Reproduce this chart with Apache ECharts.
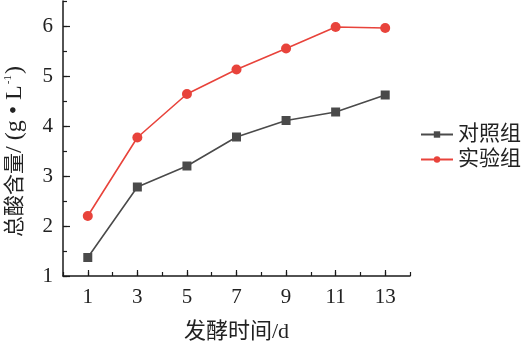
<!DOCTYPE html>
<html><head><meta charset="utf-8">
<script src="https://cdn.jsdelivr.net/npm/echarts@6/dist/echarts.min.js"></script>
<style>html,body{margin:0;padding:0;background:#fff}#c{width:522px;height:344px}</style>
</head><body><div id="c"></div>
<script>
const days = [1, 3, 5, 7, 9, 11, 13];
const controlValues = [1.37, 2.78, 3.20, 3.78, 4.11, 4.28, 4.62];
const testValues = [2.20, 3.77, 4.64, 5.13, 5.55, 5.98, 5.96];
const xTickLabels = [1, 3, 5, 7, 9, 11, 13];
const yTickLabels = [1, 2, 3, 4, 5, 6];
const seriesNames = ['对照组', '实验组'];

const serif = '"Liberation Serif", "Noto Sans CJK SC", serif';
const axisColor = '#1a1a1a';
const chart = echarts.init(document.getElementById('c'));
const pair = (vals) => days.map((d, i) => [d, vals[i]]);
chart.setOption({
  animation: false,
  grid: { left: 63, right: 112, top: 1, bottom: 68, containLabel: false, outerBoundsMode: 'none' },
  legend: {
    orient: 'vertical', left: 415, top: 119, itemGap: 4,
    itemWidth: 32, itemHeight: 8,
    textStyle: { fontFamily: serif, fontSize: 21, color: '#222' },
    data: seriesNames
  },
  xAxis: [{
    type: 'value', min: 0, max: 14, interval: 1,
    name: '发酵时间/d', nameLocation: 'middle', nameGap: 45,
    nameTextStyle: { fontFamily: serif, fontSize: 22, color: '#222' },
    axisLine: { lineStyle: { color: axisColor, width: 1.5 } },
    axisTick: { inside: true, length: 4, lineStyle: { color: axisColor, width: 1.2 } },
    axisLabel: { margin: 11, fontFamily: serif, fontSize: 21, color: '#222',
      formatter: v => (xTickLabels.indexOf(v) >= 0 ? String(v) : '') },
    splitLine: { show: false }
  }, {
    type: 'value', min: 0, max: 14, position: 'bottom',
    axisLine: { show: false },
    axisTick: { inside: true, length: 6, customValues: xTickLabels, lineStyle: { color: axisColor, width: 1.2 } },
    axisLabel: { show: false },
    splitLine: { show: false }
  }],
  yAxis: [{
    type: 'value', min: 1, max: 6.5, interval: 0.5,
    name: '{c|总酸含量}{l|/ (g • L}{s|-1}{l|)}', nameLocation: 'middle', nameGap: 36, nameRotate: 90,
    nameTextStyle: { fontFamily: serif, fontSize: 21, color: '#222', padding: [0, 26, 0, 0],
      rich: {
        c: { fontFamily: serif, fontSize: 21, color: '#222' },
        l: { fontFamily: serif, fontSize: 24, color: '#222' },
        s: { fontFamily: serif, fontSize: 11, color: '#222', verticalAlign: 'top', padding: [0, 1, 10, 1] }
      } },
    axisLine: { lineStyle: { color: axisColor, width: 1.5 } },
    axisTick: { inside: true, length: 4, lineStyle: { color: axisColor, width: 1.2 } },
    axisLabel: { margin: 10, fontFamily: serif, fontSize: 21, color: '#222',
      formatter: v => (yTickLabels.indexOf(v) >= 0 ? String(v) : '') },
    splitLine: { show: false }
  }, {
    type: 'value', min: 1, max: 6.5, position: 'left',
    axisLine: { show: false },
    axisTick: { inside: true, length: 7, customValues: yTickLabels, lineStyle: { color: axisColor, width: 1.2 } },
    axisLabel: { show: false },
    splitLine: { show: false }
  }],
  series: [{
    name: seriesNames[0], type: 'line', data: pair(controlValues),
    symbol: 'rect', symbolSize: 9,
    itemStyle: { color: '#4a4a4a' }, lineStyle: { color: '#4a4a4a', width: 1.6 }
  }, {
    name: seriesNames[1], type: 'line', data: pair(testValues),
    symbol: 'circle', symbolSize: 10,
    itemStyle: { color: '#e8433b' }, lineStyle: { color: '#e8433b', width: 1.6 }
  }]
});
</script></body></html>
